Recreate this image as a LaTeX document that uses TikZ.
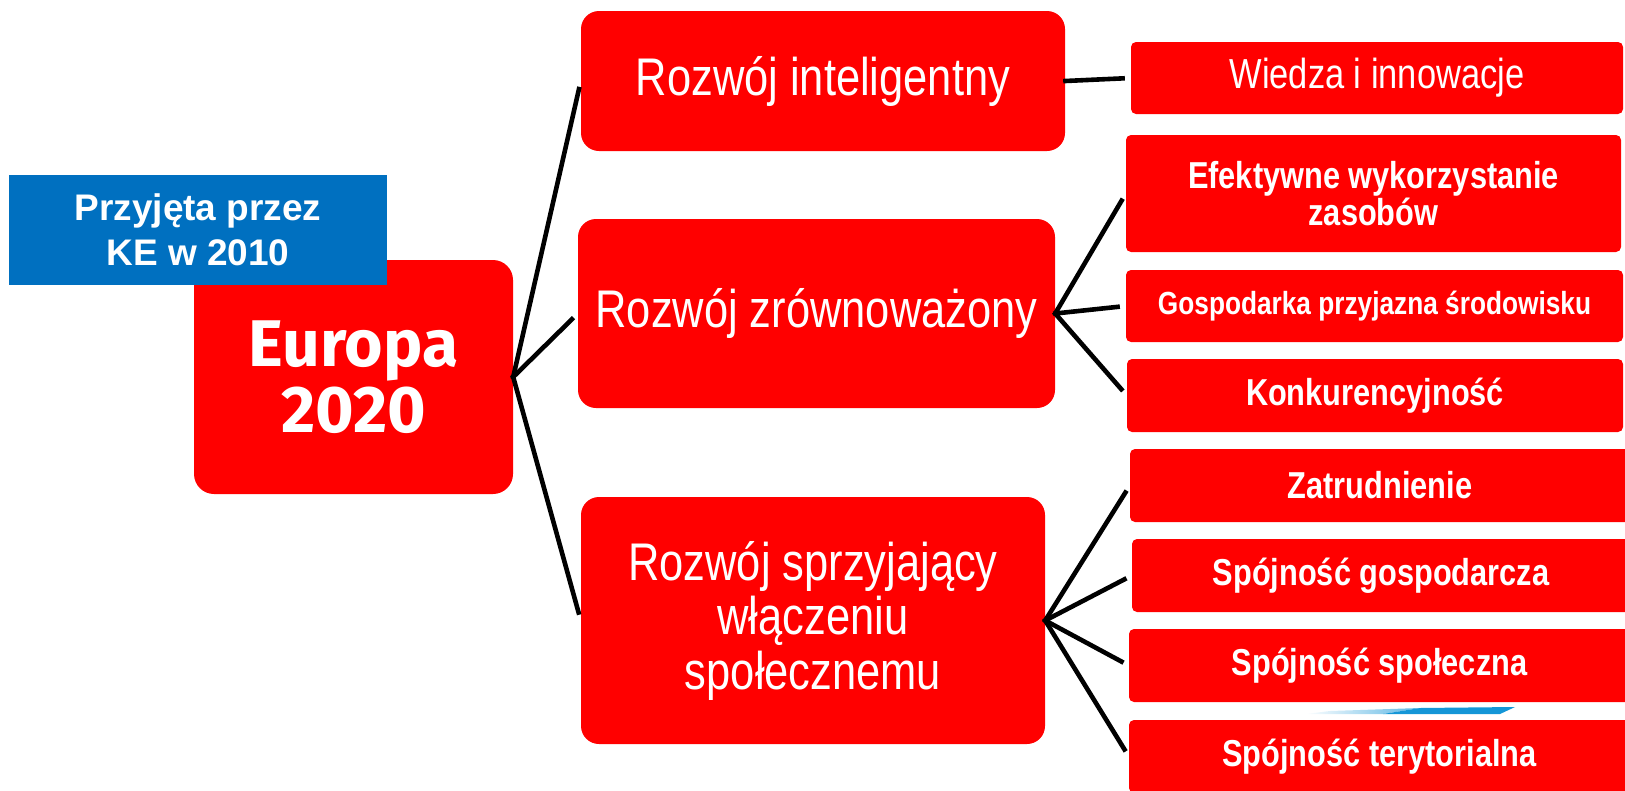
\documentclass[tikz,border=0pt]{standalone}
\usepackage{fontspec}
\setmainfont{Liberation Sans}
\newfontfamily\narrowfont[FakeStretch=0.82]{Liberation Sans}
\newfontfamily\europafont{Fira Sans}
\usepackage{tikz, xcolor}
\usetikzlibrary{shapes}

\definecolor{boxred}{RGB}{255,0,0}
\definecolor{keblue}{RGB}{0,112,192}
\definecolor{sliverblue}{RGB}{20,150,215}

\begin{document}
\begin{tikzpicture}[x=1pt, y=-1pt]
\tikzstyle{vertexr}=[rectangle, fill=boxred, text=white, inner sep=0pt, align=center]
\tikzstyle{vertexm}=[vertexr, rounded corners=18pt, font=\narrowfont\fontsize{53}{54.5}\selectfont]
\tikzstyle{vertexs}=[vertexr, rounded corners=5pt, font=\narrowfont\bfseries\fontsize{37.5}{37}\selectfont]
\tikzstyle{drawstyle}=[line width=4.6pt, shorten >=6pt, shorten <=-2pt]

\useasboundingbox (0,0) rectangle (1625,790);

\node[vertexr, rounded corners=20pt, minimum width=319pt, minimum height=234pt,
  font=\europafont\bfseries\fontsize{66}{66}\selectfont] (C0x0) at (353.5,377) {Europa\\2020};
\node[rectangle, fill=keblue, text=white, inner sep=0pt, align=center, minimum width=378pt, minimum height=110pt,
  font=\bfseries\fontsize{37}{45}\selectfont] (C0b) at (198,230) {Przyjęta przez\\KE w 2010};

\node[vertexm, minimum width=484pt, minimum height=140pt] (C1x0) at (823,81) {Rozwój inteligentny};
\node[vertexm, minimum width=477pt, minimum height=189pt] (C1x1) at (816.5,313.5) {Rozwój zrównoważony};
\node[vertexm, minimum width=464pt, minimum height=247pt] (C1x2) at (813,620.5) {Rozwój sprzyjający\\włączeniu\\społecznemu};
\draw[drawstyle] (C0x0.east) -- (C1x0.west);
\draw[drawstyle] (C0x0.east) -- (C1x1.west);
\draw[drawstyle] (C0x0.east) -- (C1x2.west);

\node[vertexs, minimum width=492pt, minimum height=72pt, font=\narrowfont\fontsize{42}{42}\selectfont] (C2x0) at (1377,78) {Wiedza i innowacje};
\draw[drawstyle] (C1x0.east) -- (C2x0.west);

\node[vertexs, minimum width=495pt, minimum height=117pt] (C2x1) at (1373.5,193.5) {Efektywne wykorzystanie\\zasobów};
\node[vertexs, minimum width=497pt, minimum height=72pt, font=\narrowfont\bfseries\fontsize{32}{32}\selectfont] (C2x2) at (1374.5,306) {Gospodarka przyjazna środowisku};
\node[vertexs, minimum width=496pt, minimum height=73pt] (C2x3) at (1375,395.5) {Konkurencyjność};
\draw[drawstyle] (C1x1.east) -- (C2x1.west);
\draw[drawstyle] (C1x1.east) -- (C2x2.west);
\draw[drawstyle] (C1x1.east) -- (C2x3.west);

\node[vertexs, minimum width=500pt, minimum height=73pt] (C2x4) at (1380,485.5) {Zatrudnienie};
\node[vertexs, minimum width=498pt, minimum height=73pt] (C2x5) at (1381,575.5) {Spójność gospodarcza};
\node[vertexs, minimum width=501pt, minimum height=73pt] (C2x6) at (1379.5,665.5) {Spójność społeczna};
\node[vertexs, minimum width=501pt, minimum height=73pt] (C2x7) at (1379.5,756.5) {Spójność terytorialna};
\draw[drawstyle] (C1x2.east) -- (C2x4.west);
\draw[drawstyle] (C1x2.east) -- (C2x5.west);
\draw[drawstyle] (C1x2.east) -- (C2x6.west);
\draw[drawstyle] (C1x2.east) -- (C2x7.west);

% blue sliver between the last two boxes
\shade[left color=white, right color=sliverblue!70] (1305,714) -- (1330,711) -- (1420,708) -- (1383,714) -- cycle;
\fill[sliverblue] (1383,714) -- (1420,708) -- (1515,707) -- (1500,714) -- cycle;
\end{tikzpicture}
\end{document}
